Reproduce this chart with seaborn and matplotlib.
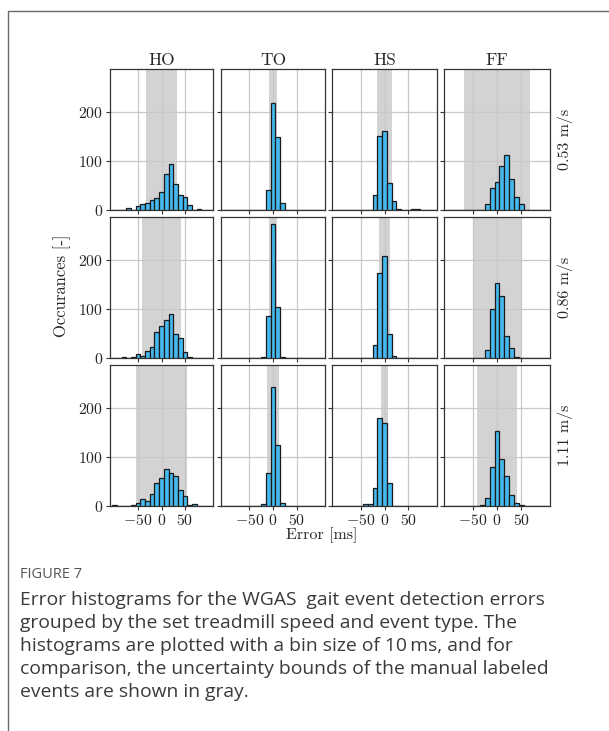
import numpy as np
import pandas as pd
import matplotlib
matplotlib.use("Agg")
import matplotlib.pyplot as plt
from matplotlib.lines import Line2D
import seaborn as sns

# ---------------- data ----------------
events = ["HO", "TO", "HS", "FF"]
speeds = ["0.53 m/s", "0.86 m/s", "1.11 m/s"]
bin_centers = list(range(-100, 101, 10))

# counts per bin (centers -100 ... 100, step 10)
ho_053 = [1, 1, 0, 5, 1, 8, 12, 14, 20, 24, 37, 74, 93, 54, 30, 26, 11, 1, 3, 0, 0]
to_053 = [0, 0, 0, 0, 0, 0, 0, 0, 1, 41, 218, 150, 14, 0, 0, 0, 0, 0, 0, 0, 0]
hs_053 = [0, 0, 0, 0, 0, 0, 1, 0, 31, 152, 162, 56, 18, 3, 1, 1, 2, 3, 1, 1, 0]
ff_053 = [0, 0, 0, 0, 0, 0, 0, 0, 12, 44, 58, 90, 112, 63, 26, 12, 1, 1, 0, 0, 0]

ho_086 = [0, 1, 2, 1, 3, 8, 5, 15, 22, 53, 66, 78, 89, 49, 40, 12, 3, 0, 1, 0, 0]
to_086 = [0, 0, 0, 0, 0, 0, 0, 0, 2, 85, 274, 104, 3, 0, 0, 0, 0, 0, 0, 0, 0]
hs_086 = [0, 0, 0, 0, 0, 0, 0, 1, 26, 173, 209, 50, 5, 0, 0, 0, 0, 1, 0, 0, 0]
ff_086 = [0, 0, 0, 0, 0, 0, 0, 1, 16, 100, 154, 127, 44, 20, 3, 1, 0, 0, 0, 0, 0]

ho_111 = [2, 0, 1, 1, 2, 7, 14, 10, 24, 47, 57, 76, 67, 61, 32, 20, 2, 4, 1, 0, 0]
to_111 = [0, 0, 0, 0, 0, 0, 0, 0, 4, 68, 243, 125, 7, 0, 0, 0, 0, 0, 0, 0, 0]
hs_111 = [0, 0, 0, 0, 0, 1, 4, 5, 36, 179, 169, 47, 0, 0, 0, 1, 1, 0, 1, 1, 0]
ff_111 = [0, 0, 0, 0, 0, 0, 1, 2, 16, 79, 154, 97, 61, 23, 7, 3, 1, 0, 0, 0, 0]

counts = [
    [ho_053, to_053, hs_053, ff_053],
    [ho_086, to_086, hs_086, ff_086],
    [ho_111, to_111, hs_111, ff_111],
]

# uncertainty bounds of manual labels (half width, ms)
bounds_053 = [34, 8.5, 16, 68]
bounds_086 = [42, 8, 12, 50]
bounds_111 = [55, 12, 7, 42]
bounds = [bounds_053, bounds_086, bounds_111]

x_ticks = [-50, 0, 50]
y_ticks = [0, 100, 200]

caption_title = "FIGURE 7"
caption_lines = [
    "Error histograms for the WGAS  gait event detection errors",
    "grouped by the set treadmill speed and event type. The",
    "histograms are plotted with a bin size of 10\u2009ms, and for",
    "comparison, the uncertainty bounds of the manual labeled",
    "events are shown in gray.",
]

# ---------------- style ----------------
sns.set_theme(style="white")
plt.rcParams["font.family"] = ["cmr10", "DejaVu Serif"]
plt.rcParams["mathtext.fontset"] = "cm"
plt.rcParams["axes.formatter.use_mathtext"] = True
plt.rcParams["axes.unicode_minus"] = True

W, H = 609, 731
fig = plt.figure(figsize=(W / 100, H / 100), dpi=100)
fig.patch.set_facecolor("white")


def px_rect(x0, y0, x1, y1):
    return [x0 / W, 1 - y1 / H, (x1 - x0) / W, (y1 - y0) / H]


col_x = [(110, 213), (221, 325), (332, 437), (444, 550)]
row_y = [(69, 210), (217, 358), (365, 506)]

bar_color = "#45B8EE"

for r in range(3):
    for c in range(4):
        x0, x1 = col_x[c]
        y0, y1 = row_y[r]
        ax = fig.add_axes(px_rect(x0, y0, x1, y1))
        df = pd.DataFrame({"err": [float(v) for v in bin_centers],
                           "n": [float(v) for v in counts[r][c]]})
        b = bounds[r][c]
        ax.axvspan(-b, b, color="#d3d3d3", zorder=0, lw=0)
        ax.set_axisbelow(True)
        ax.grid(True, color="#c8c8c8", lw=0.9, zorder=1)
        sns.histplot(data=df, x="err", weights="n", binwidth=10,
                     binrange=(-105, 105), ax=ax,
                     color=bar_color, alpha=1.0, edgecolor="#1a1a1a",
                     linewidth=0.9, zorder=3)
        ax.set_xlim(-110, 110)
        ax.set_ylim(0, 288)
        ax.set_xticks(x_ticks)
        ax.set_yticks(y_ticks)
        ax.set_xlabel("")
        ax.set_ylabel("")
        ax.tick_params(axis="both", direction="out", length=3, width=0.8,
                       color="#333333", labelsize=11.3, pad=2,
                       bottom=True, left=True)
        if r < 2:
            ax.set_xticklabels([])
        if c > 0:
            ax.set_yticklabels([])
        for s in ax.spines.values():
            s.set_color("#333333")
            s.set_linewidth(0.9)
        if r == 0:
            ax.set_title(events[c], fontsize=12.5, pad=3)
        if c == 3:
            ax.text(1.145, 0.5, speeds[r], transform=ax.transAxes, rotation=90,
                    ha="center", va="center", fontsize=11.5)

fig.text(62 / W, 1 - 286 / H, "Occurances [-]", rotation=90, ha="center",
         va="center", fontsize=12)
fig.text(322 / W, 1 - 535 / H, "Error [ms]", ha="center", va="center",
         fontsize=11.5)

# caption
sans = ["Open Sans", "DejaVu Sans"]
fig.text(20 / W, 1 - 575 / H, caption_title, ha="left", va="center",
         fontsize=10.5, color="#555555", family=sans)
for i, line in enumerate(caption_lines):
    fig.text(20 / W, 1 - (600 + 23 * i) / H, line, ha="left", va="center",
             fontsize=13.9, color="#3a3a3a", family=sans)

# outer frame (top and left edges)
frame_color = "#6a6a6a"
fig.add_artist(Line2D([8 / W, 1.0], [1 - 11 / H, 1 - 11 / H],
                      transform=fig.transFigure, color=frame_color, lw=1.0))
fig.add_artist(Line2D([8 / W, 8 / W], [1 - 11 / H, 0.0],
                      transform=fig.transFigure, color=frame_color, lw=1.0))

fig.savefig("out.png", dpi=100)
